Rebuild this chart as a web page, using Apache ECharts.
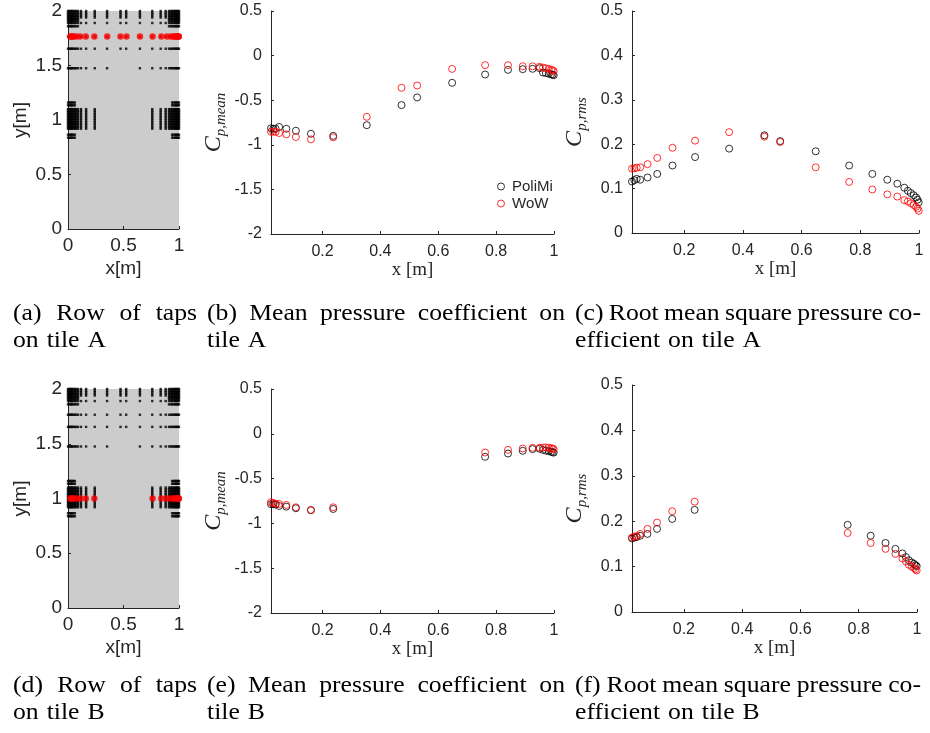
<!DOCTYPE html>
<html><head><meta charset="utf-8">
<script src="https://cdn.jsdelivr.net/npm/echarts@6/dist/echarts.min.js"></script>
<style>html,body{margin:0;padding:0;background:#fff}#c{width:930px;height:733px}</style>
</head><body><div id="c"></div>
<script>
// ---------- data ----------
// tap x positions (m) of the measured rows
const xA = [0.022, 0.03, 0.038, 0.05, 0.075, 0.108, 0.16, 0.237, 0.353, 0.473, 0.527, 0.648, 0.762, 0.841, 0.892, 0.926, 0.95, 0.962, 0.972, 0.982, 0.99, 0.995, 0.999];
const xB = [0.022, 0.03, 0.038, 0.05, 0.075, 0.108, 0.16, 0.237, 0.762, 0.841, 0.892, 0.926, 0.95, 0.962, 0.972, 0.982, 0.99, 0.995, 0.999];
const rowYA = 1.765;
const rowYB = 1.0;

// tile A
const meanA_PoliMi = [-0.815, -0.82, -0.82, -0.80, -0.82, -0.842, -0.876, -0.90, -0.78, -0.555, -0.469, -0.305, -0.212, -0.16, -0.152, -0.148, -0.141, -0.19, -0.196, -0.203, -0.21, -0.215, -0.22];
const meanA_WoW    = [-0.853, -0.853, -0.855, -0.868, -0.883, -0.913, -0.939, -0.916, -0.686, -0.361, -0.335, -0.149, -0.107, -0.107, -0.119, -0.12, -0.125, -0.135, -0.142, -0.15, -0.158, -0.166, -0.175];
const rmsA_PoliMi  = [0.116, 0.119, 0.122, 0.12, 0.125, 0.133, 0.152, 0.171, 0.19, 0.22, 0.207, 0.184, 0.152, 0.133, 0.12, 0.111, 0.102, 0.095, 0.09, 0.085, 0.08, 0.075, 0.069];
const rmsA_WoW     = [0.145, 0.146, 0.147, 0.148, 0.155, 0.169, 0.192, 0.208, 0.227, 0.217, 0.205, 0.148, 0.115, 0.098, 0.087, 0.082, 0.074, 0.071, 0.067, 0.063, 0.059, 0.055, 0.05];

// tile B
const meanB_PoliMi = [-0.786, -0.786, -0.79, -0.805, -0.813, -0.831, -0.853, -0.839, -0.257, -0.22, -0.19, -0.171, -0.167, -0.18, -0.188, -0.195, -0.2, -0.205, -0.21];
const meanB_WoW    = [-0.764, -0.772, -0.78, -0.783, -0.794, -0.82, -0.85, -0.82, -0.209, -0.179, -0.164, -0.156, -0.156, -0.153, -0.152, -0.155, -0.16, -0.165, -0.171];
const rmsB_PoliMi  = [0.162, 0.164, 0.165, 0.168, 0.172, 0.183, 0.205, 0.225, 0.192, 0.168, 0.152, 0.139, 0.129, 0.121, 0.114, 0.109, 0.106, 0.103, 0.101];
const rmsB_WoW     = [0.164, 0.166, 0.167, 0.172, 0.183, 0.197, 0.222, 0.243, 0.174, 0.152, 0.139, 0.128, 0.118, 0.111, 0.104, 0.1, 0.097, 0.094, 0.0915];

// tap layout (all taps on the tile)
const tapCols = [0.0, 0.01, 0.022, 0.03, 0.038, 0.05, 0.062, 0.075, 0.09, 0.117, 0.163, 0.241, 0.352, 0.473, 0.524, 0.648, 0.759, 0.835, 0.88, 0.91, 0.925, 0.938, 0.95, 0.962, 0.972, 0.982, 0.99, 1.0];
const tapRowsTop = [2.0, 1.985, 1.97, 1.955, 1.94, 1.89, 1.765, 1.654];
const tapRowsTopEdge = [1.925, 1.91, 1.86];
const tapRowsMid = [1.475];
const tapRowsBand = [1.10, 1.085, 1.07, 1.055, 1.04, 1.025, 1.01, 0.995, 0.98, 0.965, 0.95, 0.935, 0.92];
const tapRowsBandEdge = [1.16, 1.135, 0.865, 0.838];

// legend names / captions
const seriesNames = ['PoliMi', 'WoW'];
const captions = [
  ['(a) Row of taps', 'on tile A'],
  ['(b) Mean pressure coefficient on', 'tile A'],
  ['(c) Root mean square pressure co-', 'efficient on tile A'],
  ['(d) Row of taps', 'on tile B'],
  ['(e) Mean pressure coefficient on', 'tile B'],
  ['(f) Root mean square pressure co-', 'efficient on tile B']
];

// ---------- build ----------
const taps = [];
function addRows(rows, filt) { rows.forEach(y => tapCols.forEach(x => { if (filt(x)) taps.push([x, y]); })); }
addRows(tapRowsTop, x => true);
addRows(tapRowsTopEdge, x => x <= 0.1 || x >= 0.9);
addRows(tapRowsMid, x => x < 0.4 || x > 0.6);
addRows(tapRowsBand, x => x < 0.25 || x > 0.75);
addRows(tapRowsBandEdge, x => x <= 0.062 || x >= 0.938);

const zip = (xs, ys) => xs.map((x, i) => [x, ys[i]]);
const AX = '#262626';
const SANS = '"Liberation Sans", Arial, sans-serif';
const SERIF = '"Liberation Serif", "Times New Roman", serif';

const grids = [
  {left: 68, top: 11, width: 111, height: 218},
  {left: 271, top: 11, width: 283, height: 223},
  {left: 632, top: 11, width: 287, height: 222},
  {left: 68, top: 389, width: 111, height: 219},
  {left: 271, top: 389, width: 283, height: 224},
  {left: 632, top: 385, width: 285, height: 227}
];
grids.forEach((g, i) => {
  if (i === 0 || i === 3) Object.assign(g, {show: true, backgroundColor: '#cccccc', borderWidth: 0});
});

function baseAxis(fs, margin) {
  return {
    axisLine: {show: true, onZero: false, lineStyle: {color: AX, width: 1}},
    axisTick: {show: true, inside: true, length: 3, lineStyle: {color: AX}},
    splitLine: {show: false},
    axisLabel: {color: AX, fontSize: fs, fontFamily: SANS, margin: margin}
  };
}
const fmt02 = v => (Math.abs(v / 0.2 - Math.round(v / 0.2)) < 1e-6) ? String(+v.toFixed(1)) : '';

const xAxes = [], yAxes = [];
[0, 3].forEach(gi => {
  xAxes[gi] = Object.assign(baseAxis(19, 7), {gridIndex: gi, type: 'value', min: 0, max: 1, interval: 0.5,
    name: 'x[m]', nameLocation: 'middle', nameGap: 30, nameTextStyle: {color: AX, fontSize: 19, fontFamily: SANS}});
  yAxes[gi] = Object.assign(baseAxis(19, 6), {gridIndex: gi, type: 'value', min: 0, max: 2, interval: 0.5,
    name: 'y[m]', nameLocation: 'middle', nameRotate: 90, nameGap: 38, nameTextStyle: {color: AX, fontSize: 19, fontFamily: SANS}});
});
const cRich = {
  c: {fontFamily: SERIF, fontStyle: 'italic', fontSize: 24, lineHeight: 30, color: AX},
  s: {fontFamily: SERIF, fontStyle: 'italic', fontSize: 15, lineHeight: 15, verticalAlign: 'bottom', color: AX}
};
[1, 2, 4, 5].forEach(gi => {
  const xa = baseAxis(16, 10);
  xa.axisLabel.formatter = fmt02;
  xa.axisLabel.showMinLabel = false;
  xAxes[gi] = Object.assign(xa, {gridIndex: gi, type: 'value', min: 0.022, max: 1,
    name: 'x [m]', nameLocation: 'middle', nameGap: 27, nameTextStyle: {color: AX, fontSize: 19, fontFamily: SERIF}});
  const isMean = (gi === 1 || gi === 4);
  yAxes[gi] = Object.assign(baseAxis(16, 9), {gridIndex: gi, type: 'value',
    min: isMean ? -2 : 0, max: 0.5, interval: isMean ? 0.5 : 0.1,
    name: isMean ? '{c|C}{s|p,mean}' : '{c|C}{s|p,rms}', nameLocation: 'middle', nameRotate: 90, nameGap: 42,
    nameTextStyle: {rich: cRich}});
});

const series = [];
function tapsSeries(gi, rowX, rowY) {
  series.push({type: 'scatter', name: 'taps' + gi, xAxisIndex: gi, yAxisIndex: gi, data: taps,
    symbol: 'rect', symbolSize: 2.4, itemStyle: {color: '#000'}, silent: true, z: 2});
  series.push({type: 'scatter', name: 'row' + gi, xAxisIndex: gi, yAxisIndex: gi,
    data: rowX.map(x => [x, rowY]), symbol: 'circle', symbolSize: 6.5, itemStyle: {color: '#ff0000'}, silent: true, z: 3});
}
tapsSeries(0, xA, rowYA);
tapsSeries(3, xB, rowYB);
function pair(gi, xs, ysP, ysW) {
  series.push({type: 'scatter', name: seriesNames[0], xAxisIndex: gi, yAxisIndex: gi, data: zip(xs, ysP),
    symbol: 'circle', symbolSize: 7, itemStyle: {color: 'rgba(0,0,0,0)', borderColor: '#000', borderWidth: 1}, z: 2});
  series.push({type: 'scatter', name: seriesNames[1], xAxisIndex: gi, yAxisIndex: gi, data: zip(xs, ysW),
    symbol: 'circle', symbolSize: 7, itemStyle: {color: 'rgba(0,0,0,0)', borderColor: '#ff0000', borderWidth: 1}, z: 3});
}
pair(1, xA, meanA_PoliMi, meanA_WoW);
pair(2, xA, rmsA_PoliMi, rmsA_WoW);
pair(4, xB, meanB_PoliMi, meanB_WoW);
pair(5, xB, rmsB_PoliMi, rmsB_WoW);

// captions (justified first line)
const CAP_FS = 24, CAP_SX = 1.07;
const ctx = document.createElement('canvas').getContext('2d');
ctx.font = CAP_FS + 'px ' + SERIF;
const graphics = [];
function placeWords(text, x0, y, x1, gap) {
  const words = text.split(' ');
  const w = words.map(s => ctx.measureText(s).width * CAP_SX);
  const tot = w.reduce((a, b) => a + b, 0);
  const g = (x1 != null && words.length > 1) ? (x1 - x0 - tot) / (words.length - 1) : gap;
  let x = x0;
  words.forEach((s, i) => {
    graphics.push({type: 'text', x: x, y: y, scaleX: CAP_SX, silent: true,
      style: {text: s, fontSize: CAP_FS, fontFamily: SERIF, fill: '#000', verticalAlign: 'middle', align: 'left'}});
    x += w[i] + g;
  });
}
const capCols = [[13, 197, 13], [207, 565, 207], [575, 921, 575]];
const capRows = [[314, 341], [686, 713]];
captions.forEach((c, i) => {
  const col = capCols[i % 3], row = capRows[Math.floor(i / 3)];
  placeWords(c[0], col[0], row[0], col[1], 0);
  placeWords(c[1], col[2], row[1], null, 8);
});

const chart = echarts.init(document.getElementById('c'), null, {renderer: 'canvas'});
chart.setOption({
  animation: false,
  backgroundColor: '#ffffff',
  grid: grids,
  xAxis: xAxes,
  yAxis: yAxes,
  legend: {
    data: [
      {name: 'PoliMi', icon: 'circle', itemStyle: {color: 'rgba(0,0,0,0)', borderColor: '#000', borderWidth: 1}},
      {name: 'WoW', icon: 'circle', itemStyle: {color: 'rgba(0,0,0,0)', borderColor: '#ff0000', borderWidth: 1}}
    ],
    orient: 'vertical', left: 492, top: 174, itemWidth: 8, itemHeight: 7, itemGap: 2,
    textStyle: {fontSize: 15, fontFamily: SANS, color: AX, padding: [0, 0, 0, 2]}
  },
  series: series,
  graphic: {elements: graphics}
});
</script>
</body></html>
